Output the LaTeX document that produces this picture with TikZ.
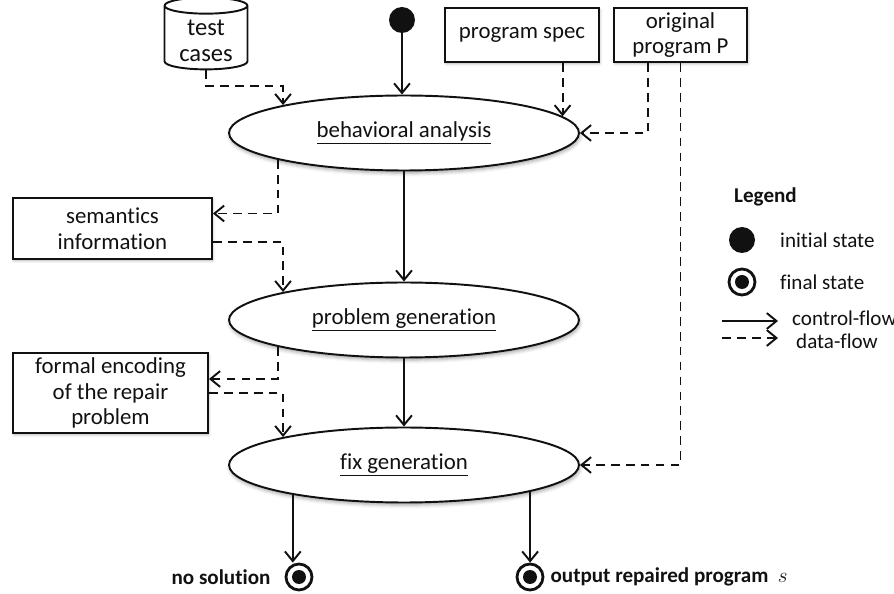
\documentclass[tikz,border=0pt]{standalone}
\usepackage{fontspec}
\setmainfont{Carlito}[Ligatures=NoCommon]
\usepackage{tikz}
\usetikzlibrary{
  positioning, arrows.meta, shapes.geometric, calc, shadows.blur
}
\definecolor{flowInk}{HTML}{111111}

\begin{document}
\begin{tikzpicture}[
  x=0.02cm, y=-0.02cm,
  every node/.style={font=\fontsize{13}{14.5}\selectfont, text=flowInk},
  cflow/.style={draw=flowInk, line width=1.1pt, -{Straight Barb[length=5.5pt, width=9pt]}},
  dflow/.style={cflow, dash pattern=on 5pt off 3.5pt},
  task/.style={
    ellipse, draw=flowInk, line width=1.1pt, fill=white,
    minimum width=7cm, minimum height=1.5cm, inner sep=0pt,
    blur shadow={shadow xshift=0.5pt, shadow yshift=-1.5pt,
      shadow blur radius=2pt, shadow opacity=35}
  },
  artefact/.style={
    rectangle, draw=flowInk, line width=1.1pt, fill=white,
    align=center, inner sep=2pt,
    blur shadow={shadow xshift=0.5pt, shadow yshift=-1pt,
      shadow blur radius=1.5pt, shadow opacity=30}
  },
  start/.style={circle, fill=flowInk, minimum size=0.52cm, inner sep=0pt},
  finish/.style={
    circle, draw=flowInk, line width=1.6pt, fill=white,
    minimum size=0.52cm, inner sep=0pt,
    path picture={\fill[flowInk] (path picture bounding box.center) circle (0.14cm);}
  },
  tag/.style={font=\fontsize{12}{14}\selectfont\bfseries},
  legtxt/.style={font=\fontsize{12}{14}\selectfont, anchor=west},
]
\useasboundingbox (0,0) rectangle (894,594);

% Inputs
\node[start] (init) at (402,20) {};
\node[cylinder, shape border rotate=90, aspect=0.3, draw=flowInk, line width=1.1pt,
  fill=white, minimum width=1.66cm, minimum height=1.3cm, inner sep=0pt, align=center,
  font=\fontsize{14}{14.5}\selectfont]
  (tc) at (206,38) {\rule{0pt}{12pt}test\\cases};
\node[artefact, minimum width=3.08cm, minimum height=1.08cm] (ps) at (522,35) {program spec};
\node[artefact, minimum width=2.66cm, minimum height=1.08cm] (op) at (680.5,35) {original\\program P};

% Tasks
\node[task] (ba) at (404,133) {\underline{behavioral analysis}};
\node[task] (pg) at (404,320) {\underline{problem generation}};
\node[task] (fg) at (404,465) {\underline{fix generation}};

% Intermediate data
\node[artefact, minimum width=3.98cm, minimum height=1.22cm] (sem) at (112.5,228.5)
  {semantics\\information};
\node[artefact, minimum width=3.9cm, minimum height=1.6cm] (fe) at (110.5,393)
  {formal encoding\\of the repair\\problem};

% Outcomes
\node[finish] (ns) at (299,577) {};
\node[finish] (out) at (530,577) {};
\node[tag, left=1.6mm of ns] (nsl) {no solution};
\node[tag, right=0mm of out] (outl) {output repaired program\ \ {\large$s$}};

% Control flow
\draw[cflow] (init) -- (init |- ba.north);
\draw[cflow] (ba.south) -- (pg.north);
\draw[cflow] (pg.south) -- (fg.north);
\draw[cflow] (fg.195.9) -- (fg.195.9 |- ns.north);
\draw[cflow] (fg.348.3) -- (fg.348.3 |- out.north);

% Data flow
\draw[dflow] (tc.south) -- ++(0,16) -| (ba.167.6);
\draw[dflow] (ba.6.6 |- ps.south) -- (ba.6.6);
\draw[dflow] ([xshift=-0.65cm]op.south) |- (ba.east);
\draw[dflow] (op.south) |- (fg.east);
\draw[dflow] (ba.192.4) |- ([yshift=0.3cm]sem.east);
\draw[dflow] ([yshift=-0.27cm]sem.east) -| (pg.167.2);
\draw[dflow] (pg.192.4) |- ([yshift=0.28cm]fe.east);
\draw[dflow] (fe.east) -| (fg.167.6);

% Legend
\node[font=\fontsize{12}{14}\selectfont\bfseries, anchor=west] (leg) at (728,197) {Legend};
\node[start] (lgi) at (742,240) {};
\node[legtxt] (lgit) at (774,240) {initial state};
\node[finish] (lgf) at (742,282) {};
\node[legtxt] (lgft) at (774,282) {final state};
\coordinate (cfa) at (722,321);
\coordinate (cfb) at (778,321);
\draw[cflow] (cfa) -- (cfb);
\node[legtxt] (cft) at (786,318) {control-flow};
\coordinate (dfa) at (722,338);
\coordinate (dfb) at (778,338);
\draw[dflow] (dfa) -- (dfb);
\node[legtxt] (dft) at (790,341) {data-flow};

\end{tikzpicture}
\end{document}
